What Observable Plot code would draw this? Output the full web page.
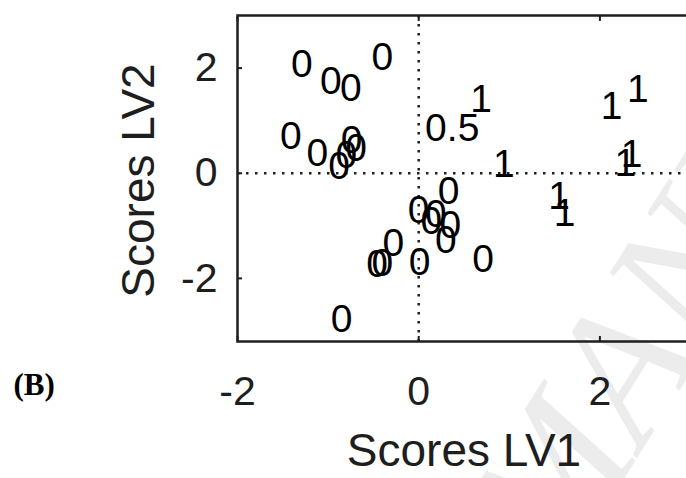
<!DOCTYPE html>
<html>
<head>
<meta charset="utf-8">
<script src="https://cdn.jsdelivr.net/npm/d3@7"></script>
<script src="https://cdn.jsdelivr.net/npm/@observablehq/plot@0.6"></script>
<style>
  html, body { margin: 0; padding: 0; background: #fff; overflow: hidden; width: 686px; height: 478px; }
  #chart { width: 686px; height: 478px; overflow: hidden; }
</style>
</head>
<body>
<div id="chart"></div>
<script>
// PLS score coordinates of each sample and its class label
const scoresLV1 = [
  -1.29, -0.97, -0.75, -0.40, -1.41, -1.12, -0.74, -0.69, -0.80, -0.88,
   0.33,  0.00,  0.19,  0.14,  0.35,  0.30, -0.28, -0.46, -0.40,  0.01,
   0.71, -0.85,
   0.69,  0.94,  2.13,  2.42,  2.28,  2.35,  1.55,  1.61,
   0.37
];
const scoresLV2 = [
   2.06,  1.75,  1.61,  2.21,  0.69,  0.37,  0.62,  0.47,  0.33,  0.12,
  -0.34, -0.70, -0.78, -0.91, -1.00, -1.28, -1.34, -1.74, -1.71, -1.69,
  -1.64, -2.79,
   1.40,  0.16,  1.27,  1.59,  0.19,  0.35, -0.45, -0.76,
   0.86
];
const classLabels = [
  "0", "0", "0", "0", "0", "0", "0", "0", "0", "0",
  "0", "0", "0", "0", "0", "0", "0", "0", "0", "0",
  "0", "0",
  "1", "1", "1", "1", "1", "1", "1", "1",
  "0.5"
];

const xTicks = [-2, 0, 2];
const yTicks = [-2, 0, 2];
const xDomain = [-2, 3];
const yDomain = [-3.2, 3];
const xTitle = "Scores LV1";
const yTitle = "Scores LV2";
const panelTag = "(B)";
const watermark = "MANUSCRIPT";

const samples = scoresLV1.map((v, i) => ({lv1: v, lv2: scoresLV2[i], cls: classLabels[i]}));

const ink = "#1e1e1e";
const fmt = d => String(d);

const chart = Plot.plot({
  width: 700,
  height: 478,
  marginLeft: 237,
  marginRight: 10,
  marginTop: 15,
  marginBottom: 137,
  style: {maxWidth: "none", fontFamily: "'Liberation Sans', Arial, Helvetica, sans-serif", background: "#fff", overflow: "visible"},
  x: {domain: xDomain},
  y: {domain: yDomain},
  marks: [
    Plot.text([watermark], {
      frameAnchor: "bottom-right", dx: -130, dy: 239, rotate: -58,
      textAnchor: "start", fontSize: 185, fontStyle: "italic",
      fontFamily: "'Liberation Serif', 'Times New Roman', serif", fill: "#ececec"
    }),
    Plot.ruleX([0], {stroke: ink, strokeWidth: 2.5, strokeDasharray: "2.5,6.5"}),
    Plot.ruleY([0], {stroke: ink, strokeWidth: 2.5, strokeDasharray: "2.5,6.5"}),
    Plot.text(samples, {
      x: "lv1", y: "lv2", text: "cls",
      fontSize: 39, fill: "#000", textAnchor: "middle", lineAnchor: "middle"
    }),
    Plot.axisX(xTicks, {anchor: "bottom", tickSize: -5, tickPadding: 39, fontSize: 41, color: ink, tickFormat: fmt, label: null, strokeWidth: 2}),
    Plot.axisX(xTicks, {anchor: "top", tickSize: -5, tickFormat: () => "", color: ink, label: null, strokeWidth: 2}),
    Plot.axisY(yTicks, {anchor: "left", tickSize: -5, tickPadding: 25, fontSize: 41, color: ink, tickFormat: fmt, label: null, strokeWidth: 2}),
    Plot.axisY(yTicks, {anchor: "right", tickSize: -5, tickFormat: () => "", color: ink, label: null, strokeWidth: 2}),
    Plot.frame({stroke: ink, strokeWidth: 2.5}),
    Plot.text([xTitle], {frameAnchor: "bottom", dy: 110, fontSize: 46, fill: ink, textAnchor: "middle", lineAnchor: "middle"}),
    Plot.text([yTitle], {frameAnchor: "left", dx: -98, dy: 2, rotate: -90, fontSize: 46, fill: ink, textAnchor: "middle", lineAnchor: "middle"}),
    Plot.text([panelTag], {
      frameAnchor: "bottom-left", dx: -224, dy: 44, textAnchor: "start", lineAnchor: "middle",
      fontSize: 31, fontWeight: "bold", fontFamily: "'Liberation Serif', 'Times New Roman', serif", fill: "#000"
    })
  ]
});

document.getElementById("chart").appendChild(chart);
</script>
</body>
</html>
